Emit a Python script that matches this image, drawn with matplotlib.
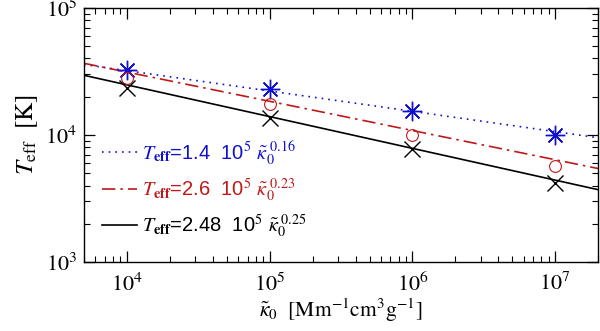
import numpy as np
import matplotlib
matplotlib.use("Agg")
import matplotlib.pyplot as plt

plt.rcParams['mathtext.fontset'] = 'stix'
plt.rcParams['font.family'] = ['Liberation Serif', 'DejaVu Serif']

# data
kappa = [1e4, 1e5, 1e6, 1e7]
teff_blue = [3.25e4, 2.3e4, 1.55e4, 1.0e4]
teff_red = [2.8e4, 1.75e4, 1.0e4, 5.7e3]
teff_black = [2.35e4, 1.35e4, 7.7e3, 4.2e3]

fit_coef = [1.4, 2.6, 2.48]      # x 10^5
fit_exp = [0.16, 0.23, 0.25]
fit_labels = ['1.4', '2.6', '2.48']
fit_exp_labels = ['0.16', '0.23', '0.25']
colors = ['#1010d0', '#c01818', 'black']
styles = [(0, (1, 3)), (0, (8, 3, 1.5, 3)), '-']

xlim = (5e3, 2e7)
ylim = (1e3, 1e5)

fig = plt.figure(figsize=(6.0, 3.31), dpi=100)
ax = fig.add_axes([0.14, 0.2085, 0.857, 0.7675])
ax.set_xscale('log')
ax.set_yscale('log')

xf = np.array(xlim)
for c, e, lab, el, col, ls in zip(fit_coef, fit_exp, fit_labels, fit_exp_labels, colors, styles):
    ax.plot(xf, c * 1e5 * xf ** (-e), color=col, ls=ls, lw=1.2,
            label=r'$T_{\mathbf{eff}}$=' + lab + r'  10$^5$ $\tilde{\kappa}_0^{\ ' + el + '}$')

ax.plot(kappa, teff_blue, ls='none', marker=(8, 2, 0), ms=14, mec=colors[0], mew=1.0)
ax.plot(kappa, teff_red, ls='none', marker='o', ms=8.5, mfc='none', mec=colors[1], mew=0.8)
ax.plot(kappa, teff_black, ls='none', marker='x', ms=11, mec='black', mew=1.0)

ax.set_xlim(*xlim)
ax.set_ylim(*ylim)

ax.tick_params(which='both', direction='in', top=True, right=True, labelsize=16)
ax.tick_params(which='major', length=8, width=0.9)
ax.tick_params(which='minor', length=4, width=0.8)
ax.set_xticks([1e4, 1e5, 1e6, 1e7])
ax.set_xticklabels([r'$10^{4}$', r'$10^{5}$', r'$10^{6}$', r'$10^{7}$'])
ax.set_yticks([1e3, 1e4, 1e5])
ax.set_yticklabels([r'$10^{3}$', r'$10^{4}$', r'$10^{5}$'])
ax.tick_params(axis='x', pad=8)
ax.tick_params(axis='y', pad=5)
for s in ax.spines.values():
    s.set_linewidth(1.0)

ax.set_xlabel(r'$\tilde{\kappa}_0\ \ [\mathrm{Mm}^{-1}\mathrm{cm}^{3}\mathrm{g}^{-1}]$', fontsize=15.5, labelpad=0)
ax.set_ylabel(r'$T_{\mathrm{eff}}\ \ [\mathrm{K}]$', fontsize=18, labelpad=4)

leg = ax.legend(loc='lower left', bbox_to_anchor=(0.0, 0.015), frameon=False,
                prop={'family': ['Liberation Sans', 'DejaVu Sans'], 'size': 14.5},
                handlelength=1.75, handletextpad=0.25, labelspacing=0.42)
for t, col in zip(leg.get_texts(), colors):
    t.set_color(col)

fig.savefig('out.png', dpi=100)
